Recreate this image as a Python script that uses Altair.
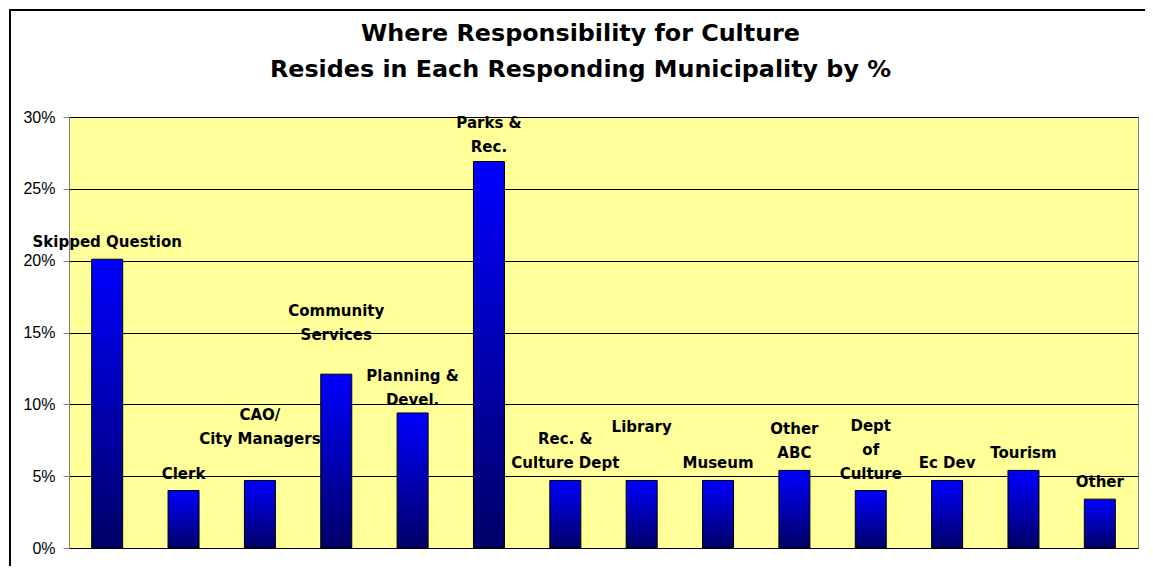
import altair as alt
import pandas as pd

# ---- data ----
categories = ["Skipped Question", "Clerk", "CAO/ City Managers", "Community Services",
              "Planning & Devel.", "Parks & Rec.", "Rec. & Culture Dept", "Library",
              "Museum", "Other ABC", "Dept of Culture", "Ec Dev", "Tourism", "Other"]
labels = ["Skipped Question", "Clerk", "CAO/\nCity Managers", "Community\nServices",
          "Planning &\nDevel.", "Parks &\nRec.", "Rec. &\nCulture Dept", "Library",
          "Museum", "Other\nABC", "Dept\nof\nCulture", "Ec Dev", "Tourism", "Other"]
shares = [0.201, 0.040, 0.047, 0.121, 0.094, 0.269, 0.047, 0.047,
          0.047, 0.054, 0.040, 0.047, 0.054, 0.034]
y_ticks = [0, 0.05, 0.10, 0.15, 0.20, 0.25, 0.30]

df = pd.DataFrame({"cat": categories, "label": labels, "share": shares})

# ---- style ----
W, H = 1069, 431
FONT = "DejaVu Sans"
LINE_H = 24
label_lift = {"CAO/ City Managers": 24, "Community Services": 22, "Library": 36,
              "Planning & Devel.": -4, "Parks & Rec.": -2}

x_enc = alt.X("cat:N", sort=categories, axis=None,
              scale=alt.Scale(paddingInner=0, paddingOuter=0))
y_enc = alt.Y("share:Q", scale=alt.Scale(domain=[0, 0.30], nice=False),
              axis=alt.Axis(values=y_ticks, format=".0%", title=None,
                            grid=True, gridColor="#000000", gridWidth=1,
                            domainColor="#808080", tickColor="#808080", tickSize=6,
                            labelFont="Liberation Sans", labelFontSize=16,
                            labelColor="#000000", labelPadding=8))

grad = alt.Gradient(gradient="linear",
                    stops=[alt.GradientStop(color="#0000FF", offset=0),
                           alt.GradientStop(color="#000066", offset=1)],
                    x1=0, x2=0, y1=0, y2=1)

bars = alt.Chart(df).mark_bar(size=31, fill=grad, stroke="#000000", strokeWidth=1).encode(
    x=x_enc, y=y_enc)

layers = [bars]
groups = {}
for c, lab in zip(categories, labels):
    shift = -9 - label_lift.get(c, 0) - (lab.count("\n")) * LINE_H
    groups.setdefault(shift, []).append(c)
for shift, cats in groups.items():
    layers.append(
        alt.Chart(df).transform_filter(alt.FieldOneOfPredicate(field="cat", oneOf=cats))
        .mark_text(font=FONT, fontWeight="bold", fontSize=15, lineBreak="\n",
                   lineHeight=LINE_H, baseline="bottom", align="center",
                   dy=shift, color="#000000")
        .encode(x=alt.X("cat:N", sort=categories, axis=None), y="share:Q", text="label:N")
    )

frame = pd.DataFrame({"k": [0]})
left_border = alt.Chart(frame).mark_rule(color="#000000", strokeWidth=2).encode(
    x=alt.value(-59), y=alt.value(-108), y2=alt.value(H + 18))
top_border = alt.Chart(frame).mark_rule(color="#000000", strokeWidth=2).encode(
    x=alt.value(-60), x2=alt.value(W + 8), y=alt.value(-107))
layers += [left_border, top_border]

chart = alt.layer(*layers).properties(
    width=W, height=H,
    title=alt.TitleParams(
        text=["Where Responsibility for Culture",
              "Resides in Each Responding Municipality by %"],
        font=FONT, fontSize=23.8, fontWeight="bold", color="#000000",
        lineHeight=36, anchor="middle", offset=0, dy=74, dx=-23),
    autosize=alt.AutoSizeParams(type="none"),
    padding={"left": 61, "top": 109, "right": 7, "bottom": 19},
).configure(background="#FFFFFF").configure_view(
    fill="#FFFF99", stroke="#808080", strokeWidth=1)

chart.save("out.html", embed_options={"renderer": "svg", "actions": False})
